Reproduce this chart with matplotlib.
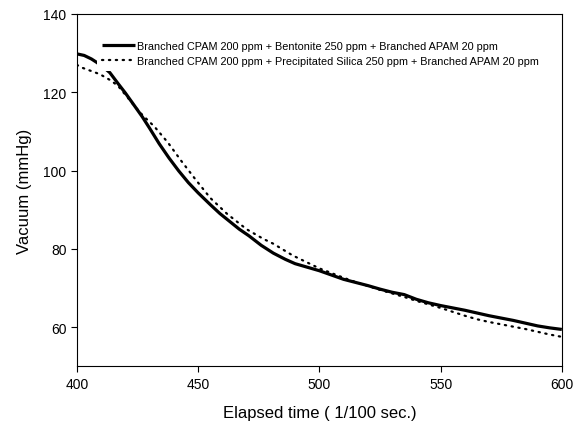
import matplotlib
matplotlib.use("Agg")
import matplotlib.pyplot as plt

plt.rcParams['font.family'] = ['Liberation Sans', 'DejaVu Sans']

# Bentonite system (solid)
t_bentonite = [400, 403, 406, 408, 411, 413.6, 417, 420, 423, 427, 430, 434,
               438, 442, 446, 450, 455, 459, 463, 467, 471, 476, 481, 486,
               490, 495, 500, 505, 510, 515, 520, 525, 530, 535, 540, 545,
               550, 555, 560, 565, 570, 575, 580, 585, 590, 595, 600]
v_bentonite = [129.8, 129.4, 128.5, 127.7, 126.4, 125.0, 122.2, 119.8, 117.2,
               113.7, 110.8, 106.8, 103.2, 99.9, 96.9, 94.3, 91.3, 89.0, 87.0,
               85.0, 83.3, 80.9, 78.9, 77.3, 76.2, 75.3, 74.4, 73.3, 72.2,
               71.4, 70.6, 69.7, 68.9, 68.3, 67.1, 66.2, 65.5, 64.9, 64.3,
               63.6, 62.9, 62.3, 61.7, 61.0, 60.3, 59.8, 59.4]

# Precipitated silica system (dotted)
t_silica = [400, 402, 406, 409.5, 414, 417, 421, 424, 427, 432, 437.6, 443,
            448.7, 455, 462, 470, 477, 481, 489, 495, 500, 505, 510, 515, 520,
            525, 530, 535, 540, 545, 550, 555, 560, 565, 570, 575, 580, 585,
            590, 595, 600]
v_silica = [127.0, 126.3, 125.4, 124.6, 123.0, 121.6, 118.6, 116.3, 114.2,
            111.2, 107.1, 102.5, 97.9, 93.0, 88.9, 85.0, 82.5, 81.3, 78.3,
            76.5, 75.0, 73.8, 72.6, 71.5, 70.5, 69.5, 68.6, 67.7, 66.7, 65.8,
            64.9, 63.9, 62.9, 62.0, 61.3, 60.7, 60.1, 59.5, 58.8, 58.1, 57.5]

labels = [
    "Branched CPAM 200 ppm + Bentonite 250 ppm + Branched APAM 20 ppm",
    "Branched CPAM 200 ppm + Precipitated Silica 250 ppm + Branched APAM 20 ppm",
]

fig = plt.figure(figsize=(5.78, 4.27), dpi=100)
ax = fig.add_axes([0.133, 0.14, 0.839, 0.825])

ax.plot(t_bentonite, v_bentonite, color='black', linewidth=2.3,
        solid_capstyle='butt', label=labels[0])
ax.plot(t_silica, v_silica, color='black', linewidth=1.6,
        linestyle=(0, (0.6, 2.5)), dash_capstyle='round', label=labels[1])

ax.set_xlim(400, 600)
ax.set_ylim(50, 140)
ax.set_xticks([400, 450, 500, 550, 600])
ax.set_yticks([60, 80, 100, 120, 140])
ax.tick_params(direction='out', length=4, width=0.8, labelsize=10)
for s in ax.spines.values():
    s.set_linewidth(0.8)

ax.set_xlabel("Elapsed time ( 1/100 sec.)", fontsize=12, labelpad=10)
ax.set_ylabel("Vacuum (mmHg)", fontsize=12, labelpad=8)

leg = ax.legend(loc='upper left', bbox_to_anchor=(0.03, 0.955), fontsize=7.8,
                frameon=True, fancybox=False, edgecolor='none',
                facecolor='white', framealpha=1, handlelength=3.0,
                handletextpad=0.25, labelspacing=0.45, borderpad=0.5)

fig.savefig("out.png", dpi=100)
